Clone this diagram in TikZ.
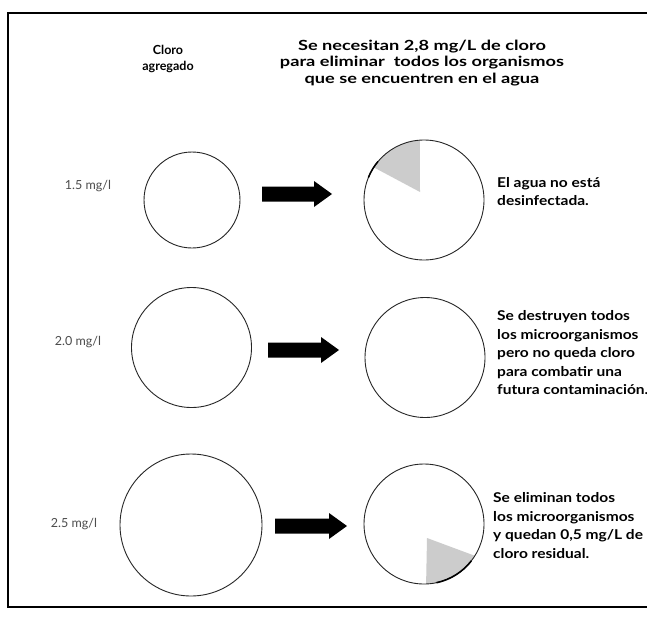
\documentclass[tikz,border=0pt]{standalone}
\usepackage{fontspec}
\setmainfont{Lato}
\newfontfamily\titlefont[FakeStretch=1.3]{Lato}
\newfontfamily\notefont[FakeStretch=1.15]{Lato}
\usetikzlibrary{calc}
\newcommand\blockarrow[2]{%
  \fill[black] let \p1=(#1), \p2=(#2) in
   (\x1,\y1+7.5pt) -- (\x2-18pt,\y1+7.5pt) -- (\x2-18pt,\y1+13pt) -- (\x2,\y1)
   -- (\x2-18pt,\y1-13pt) -- (\x2-18pt,\y1-7.5pt) -- (\x1,\y1-7.5pt) -- cycle;}
\begin{document}
\begin{tikzpicture}[x=1pt,y=-1pt,
  dish/.style={circle,draw=black!85,line width=0.9pt,inner sep=0pt,minimum size=#1},
  dose/.style={font=\fontsize{12.5}{14}\selectfont,text=black!70,inner sep=0pt},
  note/.style={font=\notefont\bfseries\fontsize{13.5}{18.5}\selectfont,align=left,anchor=west,inner sep=0pt},
  head/.style={font=\bfseries\fontsize{12.5}{16.5}\selectfont,align=center,inner sep=0pt},
  titlehead/.style={font=\titlefont\bfseries\fontsize{14}{16.5}\selectfont,align=center,inner sep=0pt},
  wedge/.style={fill=black!20,draw=none}
]
\useasboundingbox (0,0) rectangle (647,623);
\fill[white] (0,0) rectangle (647,623);
% frame
\draw[line width=1.4pt] (648,13) -- (8,13) -- (8,607) -- (648,607);

% headers
\node[head] (h1) at (168,59) {Cloro\\agregado};
\node[titlehead] (h2) at (422,63) {Se necesitan 2,8 mg/L de cloro\\para eliminar \ todos los organismos\\que se encuentren en el agua};

% row 1
\node[dose] (d1) at (88,186) {1.5 mg/l};
\node[dish=96pt] (l1) at (192,200) {};
\coordinate (a1s) at (262,194);
\coordinate (a1e) at (332,194);
\blockarrow{a1s}{a1e}
\fill[wedge] (420,192) -- ([shift={(-94:60)}]424,200) arc (-94:-147:60) -- cycle;
\node[dish=120pt] (r1) at (424,200) {};
\draw[line width=1.5pt] ([shift={(-140:60)}]424,200) arc (-140:-158:60);
\node[note] (t1) at (497,191.5) {El agua no está\\desinfectada.};

% row 2
\node[dose] (d2) at (78,342) {2.0 mg/l};
\node[dish=120pt] (l2) at (191.5,347.5) {};
\coordinate (a2s) at (268,350);
\coordinate (a2e) at (339,350);
\blockarrow{a2s}{a2e}
\node[dish=120pt] (r2) at (425,357.5) {};
\node[note] (t2) at (497,353) {Se destruyen todos\\los microorganismos\\pero no queda cloro\\para combatir una\\futura contaminación.};

% row 3
\node[dose] (d3) at (74,524) {2.5 mg/l};
\node[dish=142pt] (l3) at (191,525) {};
\coordinate (a3s) at (275,526);
\coordinate (a3e) at (347,526);
\blockarrow{a3s}{a3e}
\fill[wedge] (427,538) -- ([shift={(32:60)}]424,524) arc (32:88:60) -- cycle;
\node[dish=120pt] (r3) at (424,524) {};
\draw[line width=1.6pt] ([shift={(38:60)}]424,524) arc (38:78:60);
\node[note] (t3) at (493,525.5) {Se eliminan todos\\los microorganismos\\y quedan 0,5 mg/L de\\cloro residual.};
\end{tikzpicture}
\end{document}
